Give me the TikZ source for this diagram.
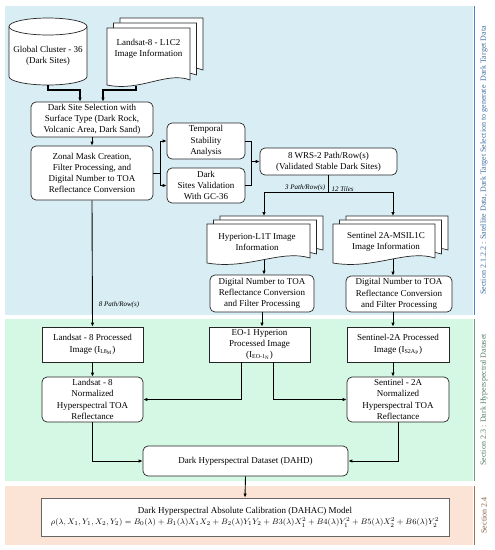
\documentclass[tikz,border=0pt]{standalone}
\usepackage{fontspec}
\setmainfont{Liberation Serif}
\usetikzlibrary{arrows.meta}

\definecolor{skybg}{HTML}{D9EEF4}
\definecolor{mintbg}{HTML}{D4F8E4}
\definecolor{peachbg}{HTML}{FBE4D5}
\definecolor{skyln}{HTML}{4F81BD}
\definecolor{mintln}{HTML}{6E9C80}
\definecolor{peachln}{HTML}{A0704F}

\newcommand\boxfont{\fontsize{9}{11.2}\selectfont}
\newcommand\tagfont{\fontsize{7}{8}\selectfont\itshape}
\newcommand\secfont{\fontsize{8}{9}\selectfont}

\def\shx{6.5}

\tikzset{
  box/.style={draw=black!85, line width=0.7pt, fill=white, rounded corners=5pt,
    align=center, font=\boxfont, inner sep=0pt},
  sqbox/.style={box, sharp corners},
  sheet/.style={draw=black!85, line width=0.7pt, fill=white},
  doctext/.style={font=\boxfont, align=center},
  conn/.style={draw, line width=0.9pt, -{Latex[length=4pt,width=3.5pt]}},
  tag/.style={font=\tagfont, inner sep=1pt},
  sect/.style={rotate=90, font=\secfont, inner sep=0pt},
}

% one page of a document stack, corners (#1,#2) and (#3,#4)
\newcommand\docsheet[4]{%
  \draw[sheet] (#1,#2) -- (#3,#2) -- (#3,#4-5)
    .. controls ({#1+0.72*(#3-#1)},#4-14) and ({#1+0.4*(#3-#1)},#4+7) .. (#1,#4) -- cycle;}
% three pages, back to front
\newcommand\docstack[5]{%
  \foreach \k in {2,1,0}{
    \begin{scope}[shift={(\k*\shx,-\k*#5)}]
      \docsheet{#1}{#2}{#3}{#4}
    \end{scope}
  }}

\begin{document}
\begin{tikzpicture}[x=1pt, y=-1pt]
  \useasboundingbox (0,0) rectangle (495,550);

  % section bands
  \fill[skybg] (5,6) rectangle (473,315);
  \fill[mintbg] (5,319) rectangle (473,481);
  \fill[peachbg] (5,486) rectangle (473,545);
  \draw[skyln, line width=0.8pt] (474,6) -- (474,315);
  \draw[mintln, line width=0.8pt] (474,319) -- (474,481);
  \draw[peachln, line width=0.8pt] (474,486) -- (474,545);
  \node[sect, text=skyln!85!black] (secsat) at (484,160.5)
    {Section 2.1.2.2 : Satellite Data, Dark Target Selection to generate\ \ Dark Target Data};
  \node[sect, text=mintln!80!black] (secdahd) at (484,400) {Section 2.3 : Dark Hyperspectral Dataset};
  \node[sect, text=peachln!85!black] (secmodel) at (484,515.5) {Section 2.4};

  % inputs
  \path[sheet] (9,26.5) -- (9,76.5) arc[start angle=180, end angle=360, x radius=39pt, y radius=8.5pt]
    -- (87,26.5);
  \draw[sheet] (48,26.5) ellipse [x radius=39pt, y radius=8.5pt];
  \node[doctext] (gc) at (48,56) {Global Cluster - 36\\(Dark Sites)};
  \coordinate (gcout) at (48,85);
  \docstack{107}{28}{190}{85}{5}
  \node[doctext] (l8img) at (148.5,49) {Landsat-8 - L1C2\\Image Information};
  \coordinate (l8out) at (136,85.5);

  % dark site selection
  \node[box, minimum width=122pt, minimum height=35pt] (sel) at (92,119.5)
    {Dark Site Selection with\\Surface Type (Dark Rock,\\Volcanic Area, Dark Sand)};
  \node[box, minimum width=122pt, minimum height=54pt] (zonal) at (92,173)
    {Zonal Mask Creation,\\Filter Processing, and\\Digital Number to TOA\\Reflectance Conversion};
  \node[box, minimum width=78pt, minimum height=36pt] (temp) at (206,141) {Temporal\\Stability\\Analysis};
  \node[box, minimum width=78pt, minimum height=35pt] (valid) at (206,185.5) {Dark\\Sites Validation\\With GC-36};
  \node[box, minimum width=137pt, minimum height=27pt] (wrs) at (328.5,161.5)
    {8 WRS-2 Path/Row(s)\\(Validated Stable Dark Sites)};

  % hyperion / sentinel inputs
  \docstack{207}{224}{310}{263}{4}
  \node[doctext] (hypimg) at (257,242) {Hyperion-L1T Image\\Information};
  \docstack{333}{224}{435}{263}{4}
  \node[doctext] (senimg) at (386,242) {Sentinel 2A-MSIL1C\\Image Information};
  \coordinate (hypin) at (264,216);
  \coordinate (hypout) at (264,260);
  \coordinate (senin) at (393,216);
  \coordinate (senout) at (393,258.5);

  \node[box, minimum width=104pt, minimum height=37pt] (hypdn) at (262,293.5)
    {Digital Number to TOA\\Reflectance Conversion\\and Filter Processing};
  \node[box, minimum width=106pt, minimum height=36pt] (sendn) at (399,294)
    {Digital Number to TOA\\Reflectance Conversion\\and Filter Processing};

  % processed images
  \node[sqbox, minimum width=101pt, minimum height=35pt] (l8p) at (92.5,344.5)
    {Landsat - 8 Processed\\Image (I\textsubscript{L8\textsubscript{M}})};
  \node[sqbox, minimum width=101pt, minimum height=35pt] (eop) at (259.5,344.5)
    {EO-1 Hyperion\\Processed Image\\(I\textsubscript{EO-1\textsubscript{N}})};
  \node[sqbox, minimum width=102pt, minimum height=35pt] (s2p) at (398,344.5)
    {Sentinel-2A Processed\\Image (I\textsubscript{S2A\textsubscript{P}})};

  \node[box, minimum width=101pt, minimum height=45pt] (l8n) at (92.5,399.5)
    {Landsat - 8\\Normalized\\Hyperspectral TOA\\Reflectance};
  \node[box, minimum width=102pt, minimum height=45pt] (s2n) at (398,399.5)
    {Sentinel - 2A\\Normalized\\Hyperspectral TOA\\Reflectance};
  \node[box, minimum width=205pt, minimum height=30pt] (dahd) at (245.5,461)
    {Dark Hyperspectral Dataset (DAHD)};

  % model
  \node[sqbox, draw=black!60, line width=0.9pt, minimum width=408pt, minimum height=38pt] (model) at (245,517)
    {Dark Hyperspectral Absolute Calibration (DAHAC) Model\\
     \fontsize{8.4}{10}\selectfont
     $\rho(\lambda, X_1, Y_1, X_2, Y_2) = B_0(\lambda) + B_1(\lambda)X_1X_2 + B_2(\lambda)Y_1Y_2
      + B3(\lambda)X_1^2 + B4(\lambda)Y_1^2 + B5(\lambda)X_2^2 + B6(\lambda)Y_2^2$};

  % connectors
  \draw[conn, line width=1.3pt] (gcout) -- ++(0,5) -| ([xshift=-12pt]sel.north);
  \draw[conn, line width=1.3pt] (l8out) -- ++(0,4.5) -| ([xshift=11pt]sel.north);
  \draw[conn] (sel.south) -- (zonal.north);
  \draw[conn] (zonal.east) -- ++(7,0) |- (temp.west);
  \draw[conn] (zonal.east) -- ++(7,0) |- (valid.west);
  \draw[line width=0.9pt] (temp.east) -- ++(6,0) coordinate (tvjoin) |- (valid.east);
  \draw[conn] (tvjoin |- wrs.west) -- (wrs.west);
  \draw[line width=0.9pt] (wrs.south) -- ++(0,17) coordinate (wrsjoin);
  \draw[conn] (wrsjoin) -| (hypin);
  \draw[conn] (wrsjoin) -| (senin);
  \node[tag, anchor=south east] (tag3) at ([xshift=-2pt]wrsjoin) {3 Path/Row(s)};
  \node[tag, anchor=south west] (tag12) at ([xshift=2pt]wrsjoin) {12 Tiles};
  \draw[conn] (hypout) -- (hypout |- hypdn.north);
  \draw[conn] (senout) -- (senout |- sendn.north);
  \draw[conn] (zonal.south) -- (l8p.north) node[tag, pos=0.83, anchor=west, xshift=5pt] (tag8) {8 Path/Row(s)};
  \draw[conn] (hypdn.south) -- (hypdn.south |- eop.north);
  \draw[conn] (sendn.south -| senout) -- (senout |- s2p.north);
  \draw[conn] (l8p.south) -- (l8n.north);
  \draw[conn] (s2p.south -| senout) -- (senout |- s2n.north);
  \draw[conn] ([xshift=-18.5pt]eop.south) |- (l8n.east);
  \draw[conn] ([xshift=13.5pt]eop.south) |- (s2n.west);
  \draw[conn] (l8n.south) |- (dahd.west);
  \draw[conn] (s2n.south) |- (dahd.east);
  \draw[conn] (dahd.south) -- (model.north);
\end{tikzpicture}
\end{document}
